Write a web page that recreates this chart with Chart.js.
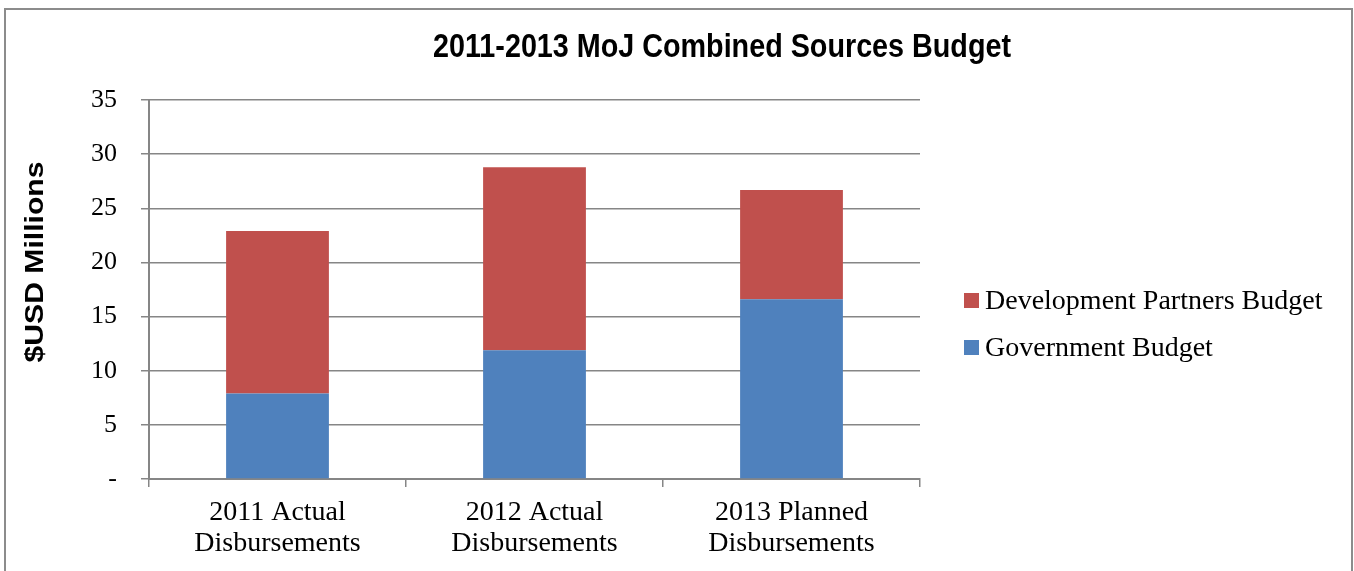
<!DOCTYPE html>
<html>
<head>
<meta charset="utf-8">
<script src="https://cdn.jsdelivr.net/npm/chart.js@4/dist/chart.umd.min.js"></script>
<style>
  html, body { margin: 0; padding: 0; background: #ffffff; }
  #wrap { width: 1354px; height: 571px; position: relative; }
</style>
</head>
<body>
<div id="wrap"><canvas id="c" width="1354" height="571"></canvas></div>
<script>
// ---- data ----
const chartTitle = '2011-2013 MoJ Combined Sources Budget';
const yAxisTitle = '$USD Millions';
const categories = [
  ['2011 Actual', 'Disbursements'],
  ['2012 Actual', 'Disbursements'],
  ['2013 Planned', 'Disbursements']
];
const seriesNames = ['Government Budget', 'Development Partners Budget'];
const governmentBudget = [7.9, 11.9, 16.6];
const developmentPartnersBudget = [15.0, 16.9, 10.1];
const yMin = 0;
const yMax = 35;
const yStep = 5;
const zeroTickLabel = '-';

// ---- styles ----
const BLUE = '#4F81BD';
const RED = '#C0504D';
const GRID = '#868686';
const SERIF = '"Liberation Serif", "Times New Roman", serif';
const SANS = '"Liberation Sans", Arial, sans-serif';

const decorPlugin = {
  id: 'decor',
  afterDraw(chart) {
    const ctx = chart.ctx;
    ctx.save();
    // outer frame
    ctx.strokeStyle = '#8c8c8c';
    ctx.lineWidth = 2;
    ctx.strokeRect(5, 9, 1347, 700);

    // title (condensed bold)
    ctx.fillStyle = '#000';
    ctx.font = 'bold 33px ' + SANS;
    ctx.textBaseline = 'alphabetic';
    ctx.textAlign = 'center';
    let w = ctx.measureText(chartTitle).width;
    let sx = 578 / w;
    ctx.save();
    ctx.translate(722, 57);
    ctx.scale(sx, 1);
    ctx.fillText(chartTitle, 0, 0);
    ctx.restore();

    // y axis title
    ctx.font = 'bold 26px ' + SANS;
    w = ctx.measureText(yAxisTitle).width;
    sx = 201 / w;
    ctx.save();
    ctx.translate(43, 262);
    ctx.rotate(-Math.PI / 2);
    ctx.scale(sx, 1);
    ctx.textAlign = 'center';
    ctx.fillText(yAxisTitle, 0, 0);
    ctx.restore();

    // legend (reversed order, as in the reference)
    const ds = chart.data.datasets.slice().reverse();
    const baselines = [309, 356];
    ctx.font = '28px ' + SERIF;
    ctx.textAlign = 'left';
    ds.forEach((d, i) => {
      const b = baselines[i];
      ctx.fillStyle = d.backgroundColor;
      ctx.fillRect(964, b - 16, 15, 15);
      ctx.fillStyle = '#000';
      ctx.fillText(d.label, 985, b);
    });
    ctx.restore();
  }
};

new Chart(document.getElementById('c'), {
  type: 'bar',
  data: {
    labels: categories,
    datasets: [
      { label: seriesNames[0], data: governmentBudget, backgroundColor: BLUE,
        barPercentage: 0.4, categoryPercentage: 1.0 },
      { label: seriesNames[1], data: developmentPartnersBudget, backgroundColor: RED,
        barPercentage: 0.4, categoryPercentage: 1.0 }
    ]
  },
  options: {
    responsive: false,
    animation: false,
    devicePixelRatio: 1,
    layout: { padding: { top: 100, right: 434, bottom: 0, left: 0 } },
    plugins: {
      legend: { display: false },
      title: { display: false },
      tooltip: { enabled: false }
    },
    scales: {
      x: {
        stacked: true,
        offset: true,
        afterFit(scale) { scale.height = 92; },
        grid: {
          display: true, offset: true, drawOnChartArea: false, drawTicks: true,
          tickLength: 8, color: GRID, lineWidth: 1.5
        },
        border: { display: true, color: GRID, width: 2 },
        ticks: {
          color: '#000', padding: 10, maxRotation: 0, autoSkip: false,
          font: { family: SERIF, size: 28, lineHeight: '31px' }
        }
      },
      y: {
        stacked: true,
        min: yMin, max: yMax,
        afterFit(scale) { scale.width = 149; },
        grid: { color: GRID, lineWidth: 1.5, tickLength: 8, drawTicks: true },
        border: { display: true, color: GRID, width: 2 },
        ticks: {
          stepSize: yStep, color: '#000', padding: 24,
          font: { family: SERIF, size: 26 },
          callback: (v) => (v === 0 ? zeroTickLabel : String(v))
        }
      }
    }
  },
  plugins: [decorPlugin]
});
</script>
</body>
</html>
